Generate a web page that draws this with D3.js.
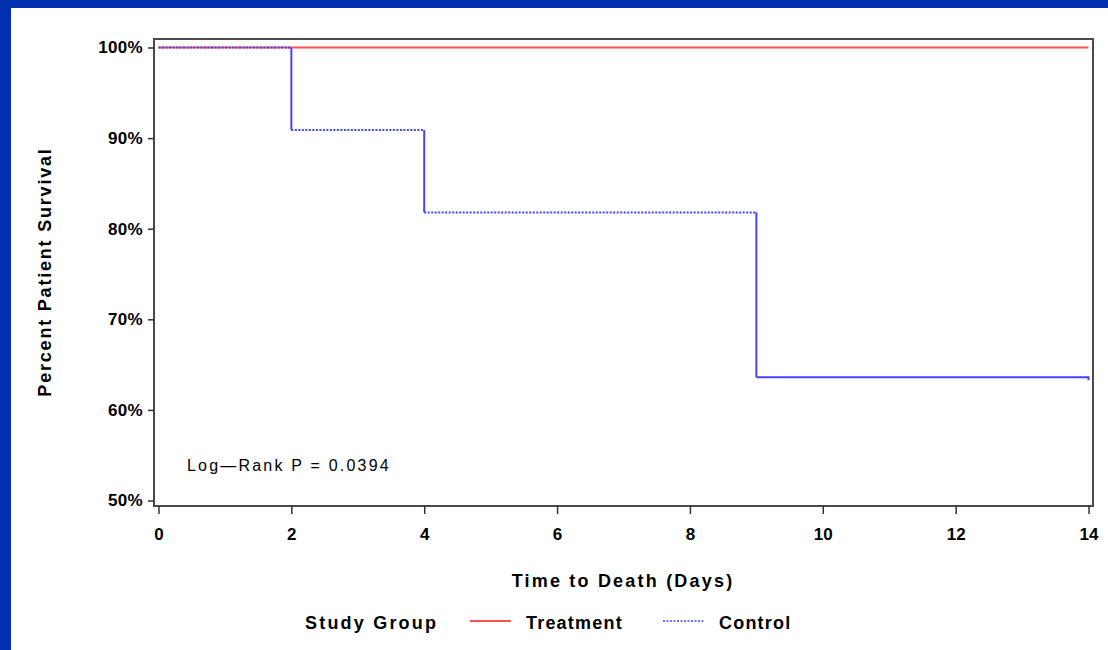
<!DOCTYPE html>
<html>
<head>
<meta charset="utf-8">
<script src="https://cdn.jsdelivr.net/npm/d3@7"></script>
<style>
  html, body { margin: 0; padding: 0; background: #0030b0; }
  svg { display: block; }
</style>
</head>
<body>
<div id="chart"></div>
<script>
// Kaplan-Meier estimates
const treatmentDays = [0, 14];
const treatmentSurv = [1.0, 1.0];
const controlDays = [0, 2, 4, 9, 14];
const controlSurv = [1.0, 0.909, 0.818, 0.636, 0.636];
const yTicks = [0.5, 0.6, 0.7, 0.8, 0.9, 1.0];
const xTicks = [0, 2, 4, 6, 8, 10, 12, 14];
const groups = ["Treatment", "Control"];

const width = 1108, height = 650;
const font = "'Liberation Sans', Arial, sans-serif";

const svg = d3.select("#chart")
    .append("svg")
    .attr("width", width)
    .attr("height", height)
    .style("background-color", "#0030b0");

// white slide panel
svg.append("rect")
    .attr("x", 11).attr("y", 8)
    .attr("width", width - 11).attr("height", height - 8)
    .attr("fill", "#fff");

// Scales
const x = d3.scaleLinear().domain([0, 14]).range([158.5, 1088.5]);
const y = d3.scaleLinear().domain([0.5, 1.0]).range([500.5, 47.5]);

// Frame
svg.append("rect")
    .attr("x", 154).attr("y", 39)
    .attr("width", 1093 - 154).attr("height", 506 - 39)
    .attr("fill", "none")
    .attr("stroke", "#4a4a4a")
    .attr("stroke-width", 2);

// Axes
const yAxis = svg.append("g")
    .attr("transform", "translate(154,0)")
    .call(d3.axisLeft(y).tickValues(yTicks).tickFormat(d3.format(".0%")).tickSize(6).tickPadding(5));
yAxis.select(".domain").remove();
yAxis.selectAll("line").attr("stroke", "#333").attr("stroke-width", 1.5);
yAxis.selectAll("text")
    .style("font-family", font)
    .style("font-size", "17px")
    .style("font-weight", "bold")
    .style("letter-spacing", "0.3px")
    .attr("fill", "#000");

const xAxis = svg.append("g")
    .attr("transform", "translate(0,506)")
    .call(d3.axisBottom(x).tickValues(xTicks).tickSize(8).tickPadding(14));
xAxis.select(".domain").remove();
xAxis.selectAll("line").attr("stroke", "#333").attr("stroke-width", 1.5);
xAxis.selectAll("text")
    .style("font-family", font)
    .style("font-size", "17px")
    .style("font-weight", "bold")
    .attr("fill", "#000");

// Step curves
function steps(days, surv) {
    const segs = [];
    for (let i = 0; i < days.length - 1; i++) {
        segs.push({ kind: "h", x1: days[i], x2: days[i + 1], y1: surv[i], y2: surv[i], last: i === days.length - 2 });
        if (surv[i + 1] !== surv[i]) {
            segs.push({ kind: "v", x1: days[i + 1], x2: days[i + 1], y1: surv[i], y2: surv[i + 1] });
        }
    }
    return segs;
}

svg.append("g").selectAll("line")
    .data(steps(treatmentDays, treatmentSurv))
    .join("line")
    .attr("x1", d => x(d.x1)).attr("x2", d => x(d.x2))
    .attr("y1", d => y(d.y1)).attr("y2", d => y(d.y2))
    .attr("stroke", "#ff5050")
    .attr("stroke-width", 2);

svg.append("g").selectAll("line")
    .data(steps(controlDays, controlSurv))
    .join("line")
    .attr("x1", d => x(d.x1)).attr("x2", d => x(d.x2))
    .attr("y1", d => y(d.y1)).attr("y2", d => y(d.y2))
    .attr("stroke", "#4444ff")
    .attr("stroke-width", 2)
    .attr("stroke-dasharray", d => (d.kind === "h" && !d.last) ? "2,1.5" : null);

// censor tick at end of control
const lastI = controlDays.length - 1;
svg.append("line")
    .attr("x1", x(controlDays[lastI])).attr("x2", x(controlDays[lastI]))
    .attr("y1", y(controlSurv[lastI]) - 1).attr("y2", y(controlSurv[lastI]) + 3)
    .attr("stroke", "#4444ff")
    .attr("stroke-width", 2);

// Annotation
svg.append("text")
    .attr("x", 187).attr("y", 471)
    .style("font-family", font)
    .style("font-size", "16px")
    .style("letter-spacing", "2.2px")
    .text("Log\u2014Rank P = 0.0394");

// Axis titles
const titleStyle = sel => sel
    .style("font-family", font)
    .style("font-size", "18px")
    .style("font-weight", "bold")
    .style("letter-spacing", "2.2px");

svg.append("text")
    .attr("x", 623).attr("y", 587)
    .attr("text-anchor", "middle")
    .call(titleStyle)
    .text("Time to Death (Days)");

svg.append("text")
    .attr("transform", "translate(51,272) rotate(-90)")
    .attr("text-anchor", "middle")
    .call(titleStyle)
    .style("letter-spacing", "1.8px")
    .text("Percent Patient Survival");

// Legend
svg.append("text")
    .attr("x", 305).attr("y", 629)
    .call(titleStyle)
    .text("Study Group");

const legendX = [470, 663];
const legend = svg.append("g").selectAll("g")
    .data(groups)
    .join("g")
    .attr("transform", (d, i) => `translate(${legendX[i]},621)`);
legend.append("line")
    .attr("x1", 0).attr("x2", 41)
    .attr("stroke", (d, i) => i === 0 ? "#ff5050" : "#4444ff")
    .attr("stroke-width", (d, i) => i === 0 ? 2 : 1.5)
    .attr("stroke-dasharray", (d, i) => i === 0 ? null : "2,1.5");
legend.append("text")
    .attr("x", 56).attr("y", 8)
    .call(titleStyle)
    .style("letter-spacing", "1.2px")
    .text(d => d);
</script>
</body>
</html>
